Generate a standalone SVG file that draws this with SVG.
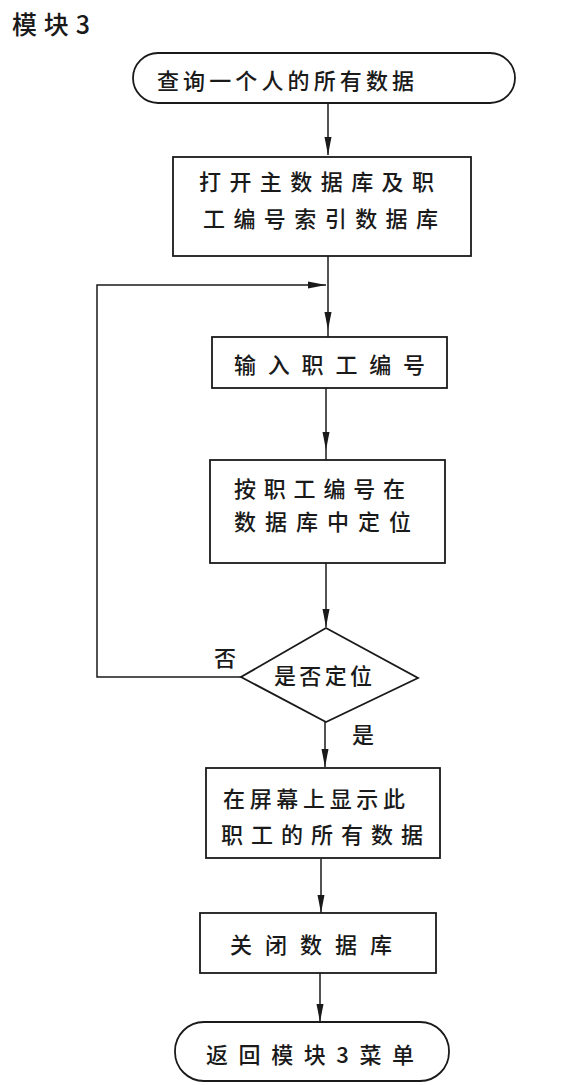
<svg xmlns="http://www.w3.org/2000/svg" width="570" height="1085" viewBox="0 0 570 1085">
<style>
.s{fill:none;stroke:#1a1a1a;stroke-width:1.8}
.t{font-family:"Noto Sans CJK SC","Noto Sans CJK JP",sans-serif;font-size:22px;font-weight:500;fill:#1a1a1a;dominant-baseline:central}
.c{fill:none;stroke:#1a1a1a;stroke-width:1.5}
</style>
<defs>
<marker id="ah" markerUnits="userSpaceOnUse" markerWidth="18" markerHeight="8" refX="18" refY="4" viewBox="0 0 18 8" orient="auto">
<path d="M0,0.5 L18,4 L0,7.5 Z" fill="#1a1a1a"/>
</marker>
</defs>
<rect width="570" height="1085" fill="#fff"/>
<text class="t" x="12" y="23" style="font-size:25px" textLength="78" lengthAdjust="spacing">模块3</text>
<g id="connectors">
<path class="c" d="M328,103 L328,155" marker-end="url(#ah)"/>
<path class="c" d="M328,256 L328,330" marker-end="url(#ah)"/>
<path class="c" d="M328,330 L328,337"/>
<path class="c" d="M326,388 L326,450" marker-end="url(#ah)"/>
<path class="c" d="M326,450 L326,460"/>
<path class="c" d="M326,563 L326,627" marker-end="url(#ah)"/>
<path class="c" d="M241,677 L97,677 L97,285 L326,285" marker-end="url(#ah)"/>
<path class="c" d="M325,722 L325,767" marker-end="url(#ah)"/>
<path class="c" d="M321,859 L321,913" marker-end="url(#ah)"/>
<path class="c" d="M320,973 L320,1022" marker-end="url(#ah)"/>
<text class="t" x="214" y="656">否</text>
<text class="t" x="352" y="733">是</text>
</g>
<g id="start">
<rect class="s" x="133" y="53" width="382" height="50" rx="25"/>
<text class="t" x="157" y="79" textLength="257" lengthAdjust="spacing">查询一个人的所有数据</text>
</g>
<g id="open">
<rect class="s" x="173" y="157" width="298" height="99"/>
<text class="t" x="199" y="180" textLength="235" lengthAdjust="spacing">打开主数据库及职</text>
<text class="t" x="203" y="217" textLength="235" lengthAdjust="spacing">工编号索引数据库</text>
</g>
<g id="input">
<rect class="s" x="212" y="337" width="235" height="51"/>
<text class="t" x="234" y="363" textLength="191" lengthAdjust="spacing">输入职工编号</text>
</g>
<g id="locate">
<rect class="s" x="210" y="460" width="235" height="103"/>
<text class="t" x="234" y="487" textLength="171" lengthAdjust="spacing">按职工编号在</text>
<text class="t" x="234" y="520" textLength="177" lengthAdjust="spacing">数据库中定位</text>
</g>
<g id="decision">
<polygon class="s" points="326,628 418,678 326,722 241,677"/>
<text class="t" x="274" y="674" textLength="98" lengthAdjust="spacing">是否定位</text>
</g>
<g id="show">
<rect class="s" x="206" y="768" width="234" height="90"/>
<text class="t" x="223" y="797" textLength="182" lengthAdjust="spacing">在屏幕上显示此</text>
<text class="t" x="221" y="833" textLength="202" lengthAdjust="spacing">职工的所有数据</text>
</g>
<g id="close">
<rect class="s" x="200" y="913" width="236" height="60"/>
<text class="t" x="230" y="943" textLength="162" lengthAdjust="spacing">关闭数据库</text>
</g>
<g id="end">
<rect class="s" x="175" y="1022" width="274" height="59" rx="29"/>
<text class="t" x="206" y="1053" textLength="208" lengthAdjust="spacing">返回模块3菜单</text>
</g>
</svg>
